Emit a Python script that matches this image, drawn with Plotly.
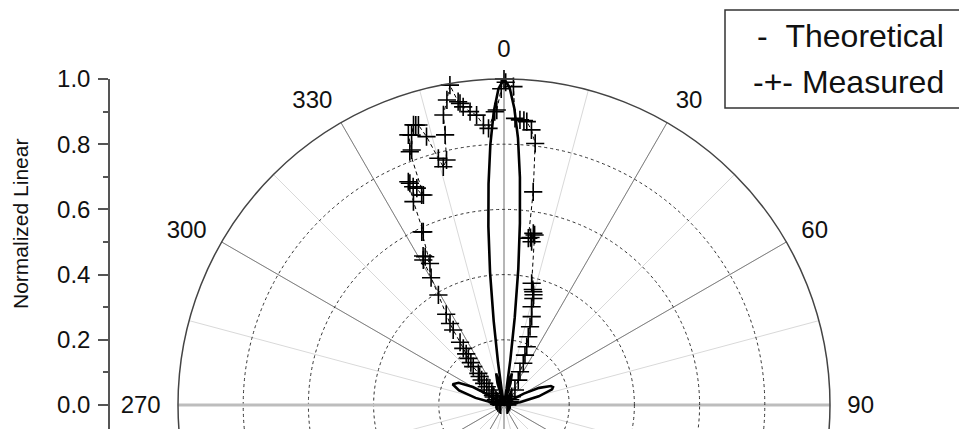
import plotly.graph_objects as go

# Theoretical radiation pattern (normalized linear), angle in degrees (0 = broadside)
theo_theta = [-90, -84, -80, -76, -72, -68, -64, -60, -56, -52, -40, -22, -19, -16.5, -14, -11.5,
              -10, -9, -8, -7, -6, -5, -4, -3, -2, -1, 0, 1, 2, 3, 4, 5, 6, 7, 8, 9, 10,
              11.5, 14, 16.5, 19, 22, 40, 52, 56, 60, 64, 68, 70, 72, 76, 80, 84, 90]
theo_r = [0.0, 0.005, 0.03, 0.09, 0.145, 0.17, 0.155, 0.11, 0.05, 0.005, 0.0, 0.0, 0.0, 0.07, 0.1, 0.06,
          0.0, 0.04, 0.13, 0.26, 0.41, 0.55, 0.68, 0.80, 0.90, 0.97, 1.0, 0.975, 0.91, 0.82, 0.70, 0.56, 0.42, 0.27, 0.14, 0.05, 0.0,
          0.06, 0.1, 0.07, 0.0, 0.0, 0.0, 0.005, 0.03, 0.07, 0.12, 0.155, 0.16, 0.155, 0.11, 0.05, 0.01, 0.0]

# Measured pattern
meas_theta = [-90, -80, -70, -62, -56, -52, -49, -46.4, -45, -43.4, -42.5, -41.7, -40.5, -39.0, -38.7, -38,
              -37.4, -36.5, -35.7, -35, -34.1, -33.5, -32.5, -30.8, -29.8, -29.1, -28.5, -28.0, -27.6,
              -25.4, -25.0, -24.0, -23.2, -23.0, -22.6, -21.9, -21.4, -21.0, -20.4, -19.9, -19.5, -18.9,
              -17.9, -17.5, -17.0, -16.1, -14.9, -14.3, -13.2, -12.3, -11.8, -10.6, -9.6, -8.6, -8.3, -7.8,
              -6.6, -5.4, -4.2, -3.2, -1.8, -1.4, -0.5, 0, 0.3, 1.7, 2.2, 3.2, 4.0, 4.6, 5.7, 6.8, 7.8,
              8.3, 9.0, 9.6, 9.7, 10.2, 12.8, 14.0, 14.5, 15.0, 15.4, 15.7, 17.4, 18.4, 19.6, 21.3, 22.8,
              24.8, 25.7, 29.8, 36, 43, 50, 60, 70, 80, 90]
meas_r = [0.01, 0.015, 0.02, 0.025, 0.03, 0.04, 0.045, 0.052, 0.065, 0.077, 0.09, 0.103, 0.115, 0.125, 0.151, 0.165,
          0.18, 0.195, 0.214, 0.235, 0.278, 0.30, 0.33, 0.393, 0.45, 0.509, 0.52, 0.515, 0.49,
          0.588, 0.586, 0.683, 0.745, 0.739, 0.725, 0.717, 0.692, 0.69, 0.829, 0.832, 0.879, 0.875,
          0.903, 0.90, 0.898, 0.857, 0.783, 0.754, 0.772, 0.848, 0.909, 0.952, 0.995, 0.941, 0.935, 0.923,
          0.906, 0.893, 0.861, 0.85, 0.90, 0.905, 0.97, 1.0, 0.99, 0.977, 0.88, 0.876, 0.875, 0.872, 0.848, 0.808, 0.66,
          0.517, 0.52, 0.508, 0.534, 0.53, 0.383, 0.365, 0.359, 0.35, 0.339, 0.313, 0.284, 0.253, 0.222, 0.192, 0.166,
          0.141, 0.113, 0.088, 0.057, 0.035, 0.025, 0.02, 0.015, 0.01, 0.01]

# Axis ticks
radial_ticks = [0.0, 0.2, 0.4, 0.6, 0.8, 1.0]
radial_minor = [0.1, 0.3, 0.5, 0.7, 0.9]
angle_ticks = list(range(0, 360, 15))
angle_labels = [0, 30, 60, 90, 270, 300, 330]
angle_major = [a for a in range(0, 360, 30) if a not in (90, 270)]

W, H = 959, 760
FONT = "Liberation Sans, Arial, sans-serif"

fig = go.Figure()

# empty trace so the underlying polar layer is rendered
fig.add_trace(go.Scatterpolar(r=[None], theta=[None], subplot="polar",
                              showlegend=False, hoverinfo="skip"))

fig.add_trace(go.Scatterpolar(
    r=theo_r, theta=theo_theta, mode="lines", subplot="polar2",
    line=dict(color="black", width=2.6), showlegend=False, hoverinfo="skip"))

fig.add_trace(go.Scatterpolar(
    r=meas_r, theta=meas_theta, mode="lines+markers", subplot="polar2",
    line=dict(color="black", width=1, dash="4px,3px"),
    marker=dict(symbol="cross-thin", size=13, line=dict(color="black", width=1.6)),
    showlegend=False, hoverinfo="skip"))

# Carrier trace for the offset radial scale on the left
fig.add_trace(go.Scatter(x=[None], y=[None], xaxis="x", yaxis="y",
                         showlegend=False, hoverinfo="skip"))

cx, cy, R = 504, 405, 326
pdom_x = [(cx - R) / W, (cx + R) / W]
pdom_y = [1 - (cy + R) / H, 1 - (cy - R) / H]

common_angular = dict(rotation=90, direction="clockwise")

fig.update_layout(
    width=W, height=H,
    margin=dict(l=0, r=0, t=0, b=0, autoexpand=False),
    paper_bgcolor="white", plot_bgcolor="white",
    font=dict(family=FONT, color="#111"),
    # underlying layer: minor spokes, angle labels, right half of the horizontal diameter
    polar=dict(
        domain=dict(x=pdom_x, y=pdom_y),
        bgcolor="white",
        angularaxis=dict(
            **common_angular,
            tickmode="array", tickvals=angle_ticks,
            ticktext=[str(a) if a in angle_labels else "" for a in angle_ticks],
            ticks="outside", ticklen=12, tickcolor="rgba(0,0,0,0)",
            tickfont=dict(size=24, family=FONT, color="#111"),
            showgrid=True, gridcolor="#d9d9d9", gridwidth=1,
            showline=False),
        radialaxis=dict(range=[0, 1], showgrid=False, showticklabels=False, ticks="",
                        showline=True, angle=0, linecolor="#bdbdbd", linewidth=3),
    ),
    # upper layer: major spokes, dotted rings, outer circle, data
    polar2=dict(
        domain=dict(x=pdom_x, y=pdom_y),
        bgcolor="rgba(0,0,0,0)",
        angularaxis=dict(
            **common_angular,
            tickmode="array", tickvals=angle_major,
            showticklabels=False, ticks="",
            showgrid=True, gridcolor="#808080", gridwidth=1,
            showline=True, linecolor="#444", linewidth=1.5),
        radialaxis=dict(range=[0, 1], tickmode="array", tickvals=[0.2, 0.4, 0.6, 0.8],
                        showgrid=True, griddash="dot", gridcolor="#333", gridwidth=1,
                        showticklabels=False, ticks="",
                        showline=True, angle=180, linecolor="#bdbdbd", linewidth=3,
                        layer="below traces"),
    ),
    xaxis=dict(domain=[110 / W, 0.15], range=[0, 1], visible=False),
    yaxis=dict(
        anchor="x", side="left",
        domain=[1 - (cy + 0.2 * R) / H, 1 - (cy - R) / H],
        range=[-0.2, 1.0],
        showline=True, linecolor="#555", linewidth=1.5,
        ticks="outside", ticklen=10, tickwidth=1.5, tickcolor="#555",
        tickmode="array", tickvals=radial_ticks,
        ticktext=[f"{v:.1f}" for v in radial_ticks],
        tickfont=dict(size=24, family=FONT, color="#111"),
        ticklabelstandoff=3,
        showgrid=False, zeroline=False,
        minor=dict(tickmode="array", tickvals=radial_minor, ticks="outside",
                   ticklen=5, tickwidth=1.5, tickcolor="#555", showgrid=False),
    ),
    annotations=[
        dict(text="Normalized Linear", textangle=-90, x=20 / W, y=1 - 224 / H,
             xref="paper", yref="paper", xanchor="center", yanchor="middle",
             showarrow=False, font=dict(size=21, family=FONT, color="#111")),
        dict(text="-\u00a0\u00a0Theoretical", x=946 / W, y=1 - 36 / H,
             xref="paper", yref="paper", xanchor="right", yanchor="middle",
             showarrow=False, font=dict(size=32, family=FONT, color="#111")),
        dict(text="-+-\u00a0Measured", x=946 / W, y=1 - 82 / H,
             xref="paper", yref="paper", xanchor="right", yanchor="middle",
             showarrow=False, font=dict(size=32, family=FONT, color="#111")),
    ],
    shapes=[
        dict(type="rect", xref="paper", yref="paper",
             x0=725 / W, x1=1.01, y0=1 - 108 / H, y1=1 - 10 / H,
             line=dict(color="#333", width=1.5), fillcolor="rgba(0,0,0,0)"),
    ],
)

fig.write_html(
    "out.html",
    post_script="document.documentElement.style.overflow='hidden';"
                "document.body.style.overflow='hidden';document.body.style.margin='0';",
)
